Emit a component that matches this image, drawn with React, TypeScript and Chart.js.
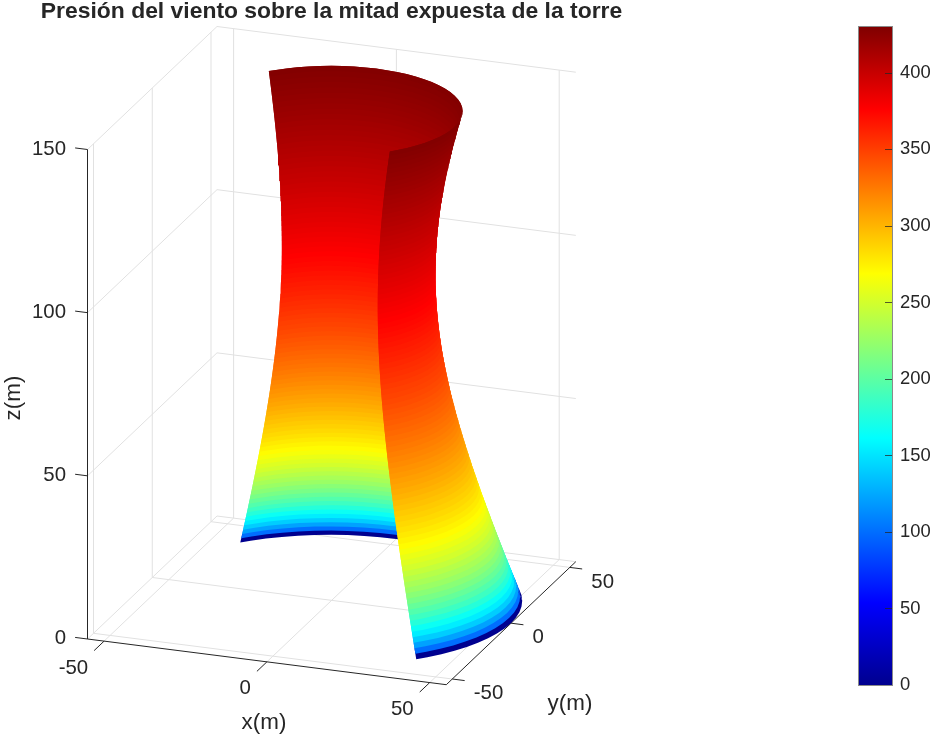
import React, { useEffect, useRef } from "react";
import { Chart, registerables } from "chart.js";

Chart.register(...registerables);

const TITLE = "Presión del viento sobre la mitad expuesta de la torre";
const X_LIM = [-55.1, 55.1];
const Y_LIM = [-55.1, 55.1];
const Z_LIM = [0, 150];
const X_TICKS = [-50, 0, 50];
const Y_TICKS = [-50, 0, 50];
const Z_TICKS = [0, 50, 100, 150];
const COLOR_MAX = 430;
const COLORBAR_TICKS_STEP = 50;

// Height of each ring of the shell (m)
const heights = [
  0,1.5,3,4.5,6,7.5,9,10.5,12,13.5,
  15,16.5,18,19.5,21,22.5,24,25.5,27,28.5,
  30,31.5,33,34.5,36,37.5,39,40.5,42,43.5,
  45,46.5,48,49.5,51,52.5,54,55.5,57,58.5,
  60,61.5,63,64.5,66,67.5,69,70.5,72,73.5,
  75,76.5,78,79.5,81,82.5,84,85.5,87,88.5,
  90,91.5,93,94.5,96,97.5,99,100.5,102,103.5,
  105,106.5,108,109.5,111,112.5,114,115.5,117,118.5,
  120,121.5,123,124.5,126,127.5,129,130.5,132,133.5,
  135,136.5,138,139.5,141,142.5,144,145.5,147,148.5,
  150,
];
// Radius of each ring (m)
const radii = [
  55.05,54.47,53.89,53.32,52.75,52.18,51.62,51.05,50.49,49.94,
  49.39,48.84,48.29,47.75,47.22,46.69,46.16,45.63,45.11,44.6,
  44.09,43.58,43.08,42.59,42.1,41.62,41.14,40.67,40.21,39.75,
  39.3,38.86,38.42,37.99,37.57,37.16,36.75,36.36,35.97,35.59,
  35.23,34.87,34.52,34.18,33.86,33.54,33.24,32.95,32.67,32.4,
  32.14,31.9,31.67,31.46,31.25,31.07,30.9,30.74,30.59,30.47,
  30.35,30.26,30.17,30.11,30.06,30.02,30,30,30.02,30.04,
  30.09,30.15,30.23,30.32,30.43,30.55,30.69,30.84,31.01,31.19,
  31.39,31.6,31.82,32.06,32.31,32.57,32.85,33.14,33.44,33.75,
  34.07,34.41,34.75,35.11,35.47,35.84,36.23,36.62,37.02,37.43,
  37.85,
];
// Wind pressure at each ring
const pressures = [
  0,100,122,140,154,166,177,187,196,204,
  212,219,226,232,238,244,250,255,260,265,
  270,273.9,277.6,281.2,284.7,288.1,291.3,294.6,297.6,300.7,
  303.6,306.5,309.3,312.1,314.8,317.5,320,322.6,325.1,327.6,
  330,332.3,334.7,336.9,339.2,341.4,343.6,345.7,347.8,349.9,
  352,354,356,357.9,359.9,361.8,363.6,365.5,367.4,369.2,
  371,372.7,374.5,376.3,378,379.6,381.3,383,384.6,386.3,
  387.9,389.5,391.1,392.6,394.2,395.7,397.2,398.7,400.2,401.7,
  403.1,404.6,406,407.5,408.8,410.3,411.6,413,414.4,415.8,
  417.1,418.4,419.8,421.1,422.4,423.7,424.9,426.2,427.5,428.8,
  430,
];
// Angles of the shell, back part then front part (degrees)
const backAngles = [20,25,30,35,40,45,50,55,60,65,70,75,80,85,90,95,100,105,110,115,120,125,130,135,138.5];
const frontAngles = [-43.8,-40,-35,-30,-25,-20,-15,-10,-5,0,5,10,15,20];

const jetStops: [number, number, number, number][] = [
  [0, 0, 0, 143],
  [0.125, 0, 0, 255],
  [0.375, 0, 255, 255],
  [0.625, 255, 255, 0],
  [0.875, 255, 0, 0],
  [1, 128, 0, 0],
];

const jet = (t: number) => {
  for (let i = 1; i < jetStops.length; i++) {
    const a = jetStops[i - 1];
    const b = jetStops[i];
    if (t <= b[0]) {
      const f = (t - a[0]) / (b[0] - a[0]);
      return `rgb(${Math.round(a[1] + (b[1] - a[1]) * f)},${Math.round(a[2] + (b[2] - a[2]) * f)},${Math.round(a[3] + (b[3] - a[3]) * f)})`;
    }
  }
  return "rgb(128,0,0)";
};

const INK = "#262626";
const GRID = "#e1e1e1";
const FONT = "'Liberation Sans', Arial, sans-serif";

// Orthographic view of the axes box, in picture units
const ORIGIN = { x: 87.5, y: 639 };
const X_VEC = { x: 358.8, y: 45.7 };
const Y_VEC = { x: 129.5, y: -123 };
const Z_VEC = { x: 0, y: -489.5 };

const project = (x: number, y: number, z: number) => {
  const u = (x - X_LIM[0]) / (X_LIM[1] - X_LIM[0]);
  const v = (y - Y_LIM[0]) / (Y_LIM[1] - Y_LIM[0]);
  const w = (z - Z_LIM[0]) / (Z_LIM[1] - Z_LIM[0]);
  return {
    x: ORIGIN.x + u * X_VEC.x + v * Y_VEC.x + w * Z_VEC.x,
    y: ORIGIN.y + u * X_VEC.y + v * Y_VEC.y + w * Z_VEC.y,
  };
};

const lineSet = (a: number[], b: number[], color: string, width = 1) => ({
  type: "line" as const,
  data: [project(a[0], a[1], a[2]), project(b[0], b[1], b[2])],
  borderColor: color,
  borderWidth: width,
  pointRadius: 0,
  fill: false,
  tension: 0,
});

const ring = (index: number, angles: number[]) =>
  angles.map((deg) => {
    const rad = (deg * Math.PI) / 180;
    return project(radii[index] * Math.cos(rad), radii[index] * Math.sin(rad), heights[index]);
  });

// Each band reaches one ring further up; the next band, painted later, covers
// the overlap, so no seam of the background shows between the bands.
const bandSet = (index: number, angles: number[]) => {
  const color = jet(pressures[index] / COLOR_MAX);
  const upper = Math.min(index + 2, heights.length - 1);
  return {
    type: "line" as const,
    data: [...ring(index, angles), ...ring(upper, angles).reverse()],
    borderColor: color,
    backgroundColor: color,
    borderWidth: 0,
    pointRadius: 0,
    fill: "shape",
    tension: 0,
  };
};

const buildDatasets = () => {
  const [x0, x1] = X_LIM;
  const [y0, y1] = Y_LIM;
  const [z0, z1] = Z_LIM;
  const paint: any[] = [];
  X_TICKS.forEach((x) => {
    paint.push(lineSet([x, y0, z0], [x, y1, z0], GRID));
    paint.push(lineSet([x, y1, z0], [x, y1, z1], GRID));
  });
  Y_TICKS.forEach((y) => {
    paint.push(lineSet([x0, y, z0], [x1, y, z0], GRID));
    paint.push(lineSet([x0, y, z0], [x0, y, z1], GRID));
  });
  Z_TICKS.forEach((z) => {
    paint.push(lineSet([x0, y0, z], [x0, y1, z], GRID));
    paint.push(lineSet([x0, y1, z], [x1, y1, z], GRID));
  });
  paint.push(lineSet([x0, y0, z0], [x0, y0, z1], INK));
  paint.push(lineSet([x0, y0, z0], [x1, y0, z0], INK));
  paint.push(lineSet([x1, y0, z0], [x1, y1, z0], INK));
  Z_TICKS.forEach((z) => paint.push(lineSet([x0, y0, z], [x0 - 3.8, y0, z], INK)));
  X_TICKS.forEach((x) => paint.push(lineSet([x, y0, z0], [x, y0 - 8.5, z0], INK)));
  Y_TICKS.forEach((y) => paint.push(lineSet([x1, y, z0], [x1 + 3.8, y, z0], INK)));
  for (let i = 0; i < heights.length - 1; i++) paint.push(bandSet(i, backAngles));
  for (let i = 0; i < heights.length - 1; i++) paint.push(bandSet(i, frontAngles));
  return paint.reverse();
};

const textPlugin = {
  id: "axisText",
  afterDraw(chart: any) {
    const ctx = chart.ctx;
    const [x0, x1] = X_LIM;
    const [y0] = Y_LIM;
    const [z0] = Z_LIM;
    ctx.save();
    ctx.fillStyle = INK;
    ctx.textBaseline = "middle";

    ctx.font = `bold 22.9px ${FONT}`;
    ctx.textAlign = "center";
    ctx.fillText(TITLE, 331.5, 11.5);

    ctx.font = `20.4px ${FONT}`;
    ctx.textAlign = "right";
    Z_TICKS.forEach((z) => {
      const p = project(x0, y0, z);
      ctx.fillText(String(z), p.x - 21.5, p.y - 0.5);
    });
    X_TICKS.forEach((x) => {
      const p = project(x, y0, z0);
      ctx.fillText(String(x), p.x - 16, p.y + 27);
    });
    ctx.textAlign = "left";
    Y_TICKS.forEach((y) => {
      const p = project(x1, y, z0);
      ctx.fillText(String(y), p.x + 21.5, p.y + 14.5);
    });

    ctx.font = `22.4px ${FONT}`;
    ctx.textAlign = "center";
    ctx.fillText("x(m)", 264, 723);
    ctx.fillText("y(m)", 570, 704);
    ctx.save();
    ctx.translate(14, 398);
    ctx.rotate(-Math.PI / 2);
    ctx.fillText("z(m)", 0, 0);
    ctx.restore();
    ctx.restore();
  },
};

const colorbarPlugin = {
  id: "colorbarFrame",
  afterDatasetsDraw(chart: any) {
    const { ctx, chartArea: a } = chart;
    const scale = chart.scales.y;
    ctx.save();
    ctx.strokeStyle = INK;
    ctx.globalAlpha = 0.75;
    ctx.lineWidth = 1;
    scale.ticks.forEach((t: any) => {
      const y = Math.round(scale.getPixelForValue(t.value)) + 0.5;
      ctx.beginPath();
      ctx.moveTo(a.right - 7, y);
      ctx.lineTo(a.right, y);
      ctx.stroke();
    });
    ctx.globalAlpha = 1;
    ctx.strokeStyle = "#8a8a8a";
    ctx.strokeRect(a.left - 0.5, a.top - 0.5, a.right - a.left + 1, a.bottom - a.top + 1);
    ctx.restore();
  },
};

export default function App() {
  const mainRef = useRef<HTMLCanvasElement>(null);
  const barRef = useRef<HTMLCanvasElement>(null);

  useEffect(() => {
    const main = new Chart(mainRef.current as HTMLCanvasElement, {
      type: "line",
      data: { datasets: buildDatasets() },
      plugins: [textPlugin],
      options: {
        responsive: false,
        animation: false,
        events: [],
        layout: { padding: 0 },
        plugins: { legend: { display: false }, tooltip: { enabled: false }, title: { display: false } },
        scales: {
          x: { type: "linear", display: false, min: 0, max: 840 },
          y: { type: "linear", display: false, min: 0, max: 737, reverse: true },
        },
      },
    } as any);

    const bar = new Chart(barRef.current as HTMLCanvasElement, {
      type: "bar",
      data: {
        labels: ["p"],
        datasets: [
          {
            data: [COLOR_MAX],
            barPercentage: 1,
            categoryPercentage: 1,
            backgroundColor: (c: any) => {
              const area = c.chart.chartArea;
              if (!area) return "#000";
              const g = c.chart.ctx.createLinearGradient(0, area.bottom, 0, area.top);
              jetStops.forEach((s) => g.addColorStop(s[0], `rgb(${s[1]},${s[2]},${s[3]})`));
              return g;
            },
          },
        ],
      },
      plugins: [colorbarPlugin],
      options: {
        responsive: false,
        animation: false,
        events: [],
        layout: { padding: { left: 19, top: 27, bottom: 52, right: 0 } },
        plugins: { legend: { display: false }, tooltip: { enabled: false } },
        scales: {
          x: { display: false },
          y: {
            position: "right",
            min: 0,
            max: COLOR_MAX,
            afterFit: (s: any) => {
              s.width = 41;
            },
            grid: { display: false, drawTicks: false },
            border: { display: false },
            ticks: {
              stepSize: COLORBAR_TICKS_STEP,
              includeBounds: false,
              autoSkip: false,
              padding: 8,
              color: INK,
              font: { family: FONT, size: 18.4 },
            },
          },
        },
      },
    } as any);

    return () => {
      main.destroy();
      bar.destroy();
    };
  }, []);

  return (
    <div style={{ position: "absolute", left: 0, top: 0, width: 933, height: 737, overflow: "hidden", background: "#fff" }}>
      <canvas ref={mainRef} width={840} height={737} style={{ position: "absolute", left: 0, top: 0, width: 840, height: 737 }} />
      <canvas ref={barRef} width={93} height={737} style={{ position: "absolute", left: 840, top: 0, width: 93, height: 737 }} />
    </div>
  );
}
